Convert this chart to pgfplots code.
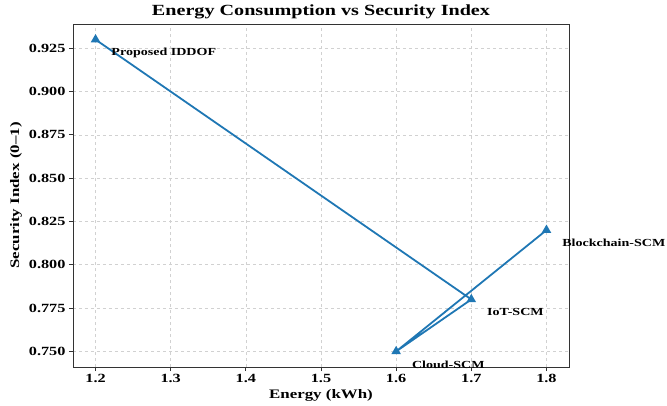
\documentclass[border=0pt]{standalone}
\usepackage{fontspec}
\setmainfont{Liberation Serif}[FakeStretch=1.3]
\usepackage{pgfplots}
\pgfplotsset{compat=1.18}
\definecolor{tabblue}{HTML}{1F77B4}
\begin{document}
\begin{tikzpicture}
\path[use as bounding box] (0,0) rectangle (667pt,405pt);
\begin{axis}[
  at={(73pt,38pt)}, anchor=south west,
  scale only axis, width=496pt, height=343pt,
  xmin=1.17, xmax=1.83, ymin=0.741, ymax=0.939,
  xtick={1.2,1.3,1.4,1.5,1.6,1.7,1.8},
  ytick={0.750,0.775,0.800,0.825,0.850,0.875,0.900,0.925},
  x tick label style={/pgf/number format/.cd, fixed, precision=1, fixed zerofill},
  y tick label style={/pgf/number format/.cd, fixed, precision=3, fixed zerofill},
  /pgf/number format/assume math mode=true,
  tick label style={font=\fontsize{12.5}{14}\selectfont\bfseries},
  grid=major, grid style={dashed, color=black!18, line width=0.6pt},
  axis line style={black!80, line width=0.8pt},
  tick align=outside, tick pos=left, major tick length=4pt,
  tick style={black!80, line width=0.8pt},
  title={Energy Consumption vs Security Index},
  title style={font=\fontsize{15.5}{18}\selectfont\bfseries, yshift=-4pt},
  xlabel={Energy (kWh)}, ylabel={Security Index (0--1)},
  label style={font=\fontsize{13}{15}\selectfont\bfseries},
  nodes near coords, point meta=explicit symbolic,
  nodes near coords style={anchor=west, xshift=14pt, yshift=-13pt, text=black,
    inner sep=1pt, font=\fontsize{10.8}{13}\selectfont\bfseries},
]
\addplot[color=tabblue, line width=1.8pt, mark=triangle*, mark size=3.8pt, mark options={solid}]
  coordinates {
    (1.2,0.93) [Proposed IDDOF]
    (1.7,0.78) [IoT-SCM]
    (1.6,0.75) [Cloud-SCM]
    (1.8,0.82) [Blockchain-SCM]
  };
\end{axis}
\end{tikzpicture}
\end{document}
